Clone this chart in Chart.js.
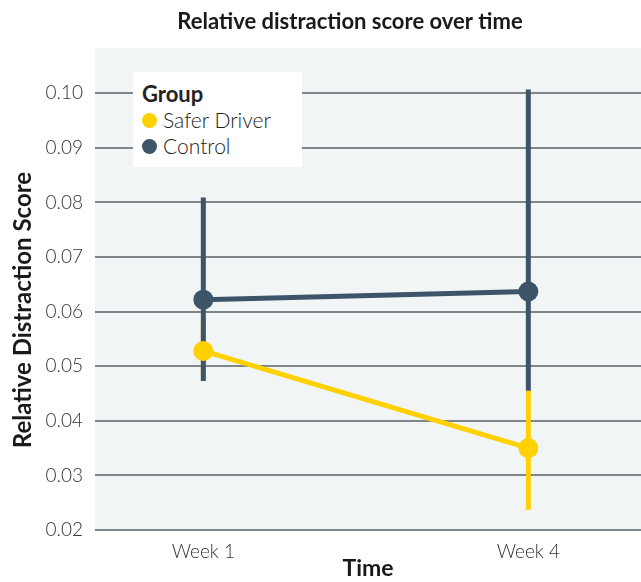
<!DOCTYPE html>
<html lang="en">
<head>
  <meta charset="UTF-8">
  <title>Relative distraction score over time</title>
  <script src="https://cdn.jsdelivr.net/npm/chart.js"></script>
  <style>
    body { margin: 0; background: #fff; }
    #wrap { position: relative; width: 641px; height: 582px; }
    #legend {
      position: absolute; left: 133px; top: 72px; width: 169px; height: 95px;
      background: #fff; box-sizing: border-box; padding: 9px 0 0 9px;
      font-family: Lato, "Open Sans", sans-serif; color: #222;
    }
    #legend .ttl { font-weight: 700; font-size: 22px; line-height: 26px; }
    #legend .item { font-weight: 300; font-size: 21px; line-height: 26px; display: flex; align-items: center; }
    #legend .dot { width: 15px; height: 15px; border-radius: 50%; margin-right: 6px; }
  </style>
</head>
<body>
  <div id="wrap">
    <canvas id="chart" width="641" height="582"></canvas>
    <div id="legend"></div>
  </div>

  <script>
    // data
    const weeks = [1, 4];
    const weekLabels = ['Week 1', 'Week 4'];
    const yTicks = [0.02, 0.03, 0.04, 0.05, 0.06, 0.07, 0.08, 0.09, 0.10];

    const saferMean = [0.0528, 0.0350];
    const saferLow = [0.0480, 0.0237];
    const saferHigh = [0.0580, 0.0455];

    const controlMean = [0.0622, 0.0637];
    const controlLow = [0.0473, 0.0455];
    const controlHigh = [0.0809, 0.1007];

    const YELLOW = '#ffd100';
    const DARK = '#3e5569';

    const groups = [
      { label: 'Safer Driver', color: YELLOW, mean: saferMean, low: saferLow, high: saferHigh },
      { label: 'Control', color: DARK, mean: controlMean, low: controlLow, high: controlHigh }
    ];

    // legend box
    const legend = document.getElementById('legend');
    legend.innerHTML = '<div class="ttl">Group</div>' + groups.map(g =>
      `<div class="item"><span class="dot" style="background:${g.color}"></span>${g.label}</div>`).join('');

    const plotBg = {
      id: 'plotBg',
      beforeDraw(chart) {
        const { ctx, chartArea: a } = chart;
        ctx.save();
        ctx.fillStyle = '#f1f5f6';
        ctx.fillRect(a.left, a.top, a.right - a.left, a.bottom - a.top);
        ctx.restore();
      }
    };

    const errorBars = {
      id: 'errorBars',
      beforeDatasetsDraw(chart) {
        const { ctx, scales: { x, y } } = chart;
        ctx.save();
        ctx.lineWidth = 5;
        ctx.lineCap = 'butt';
        groups.forEach(g => {
          ctx.strokeStyle = g.color;
          weeks.forEach((w, i) => {
            const px = x.getPixelForValue(w);
            ctx.beginPath();
            ctx.moveTo(px, y.getPixelForValue(g.low[i]));
            ctx.lineTo(px, y.getPixelForValue(g.high[i]));
            ctx.stroke();
          });
        });
        ctx.restore();
      }
    };

    const titles = {
      id: 'titles',
      afterDraw(chart) {
        const { ctx } = chart;
        ctx.save();
        ctx.fillStyle = '#1a1a1a';
        ctx.textAlign = 'center';
        ctx.textBaseline = 'middle';
        ctx.font = 'bold 22px Lato, "Open Sans", sans-serif';
        ctx.fillText('Relative distraction score over time', 350, 22);
        ctx.translate(23, 310);
        ctx.rotate(-Math.PI / 2);
        ctx.font = 'bold 24px Lato, "Open Sans", sans-serif';
        ctx.fillText('Relative Distraction Score', 0, 0);
        ctx.restore();
      }
    };

    new Chart(document.getElementById('chart'), {
      type: 'line',
      data: {
        datasets: groups.map(g => ({
          label: g.label,
          data: weeks.map((w, i) => ({ x: w, y: g.mean[i] })),
          borderColor: g.color,
          backgroundColor: g.color,
          borderWidth: 5,
          pointRadius: 10,
          pointBorderWidth: 0,
          pointBackgroundColor: g.color,
          tension: 0,
          clip: false
        }))
      },
      options: {
        responsive: false,
        animation: false,
        layout: { autoPadding: false, padding: { top: 48, right: 0, left: 0, bottom: 0 } },
        plugins: {
          legend: { display: false },
          title: { display: false },
          tooltip: { enabled: false }
        },
        scales: {
          x: {
            type: 'linear',
            min: 0,
            max: 5.04,
            afterBuildTicks: s => { s.ticks = weeks.map(v => ({ value: v })); },
            afterFit: s => { s.height = 52; },
            grid: { display: false },
            border: { display: false },
            ticks: {
              callback: v => weekLabels[weeks.indexOf(v)],
              font: { family: 'Lato, "Open Sans", sans-serif', size: 19, weight: '300' },
              color: '#333',
              padding: 2,
              maxRotation: 0
            },
            title: {
              display: true,
              text: 'Time',
              font: { family: 'Lato, "Open Sans", sans-serif', size: 23, weight: 'bold' },
              color: '#1a1a1a',
              padding: { top: 0, bottom: 0 }
            }
          },
          y: {
            min: 0.02,
            max: 0.1083,
            afterBuildTicks: s => { s.ticks = yTicks.map(v => ({ value: v })); },
            afterFit: s => { s.width = 95; },
            grid: { color: '#7d878c', lineWidth: 2, drawTicks: false },
            border: { display: false },
            ticks: {
              callback: v => v.toFixed(2),
              font: { family: 'Lato, "Open Sans", sans-serif', size: 19, weight: '300' },
              color: '#333',
              padding: 12
            }
          }
        }
      },
      plugins: [plotBg, errorBars, titles]
    });
  </script>
</body>
</html>
